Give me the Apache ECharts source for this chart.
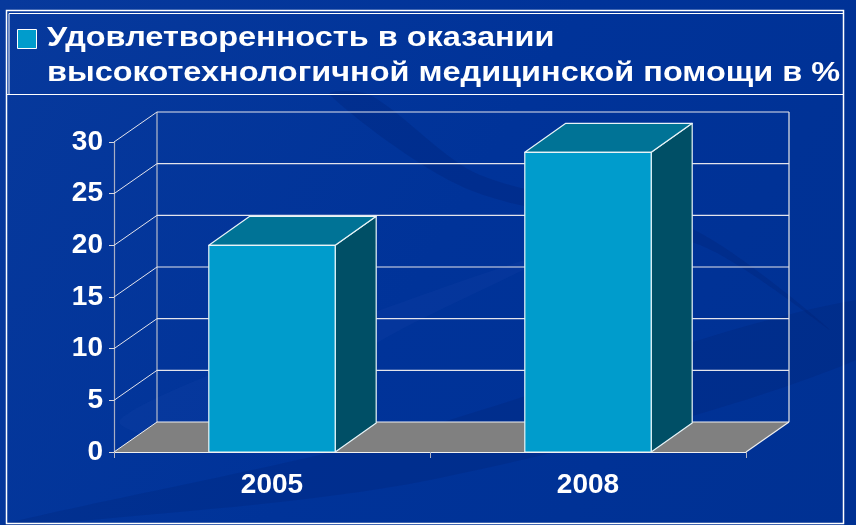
<!DOCTYPE html>
<html>
<head>
<meta charset="utf-8">
<script src="https://cdn.jsdelivr.net/npm/echarts@6/dist/echarts.min.js"></script>
<style>
  html, body { margin: 0; padding: 0; background: #003399; }
  #chart { width: 856px; height: 525px; }
</style>
</head>
<body>
<div id="chart"></div>
<script>
// Chart data
const categories = ['2005', '2008'];
const values = [20, 29];
const yTicks = [0, 5, 10, 15, 20, 25, 30];
const legendLines = ['Удовлетворенность в оказании', 'высокотехнологичной медицинской помощи в %'];
const seriesName = legendLines.join(' ');

// 3D look: depth offsets of the back wall and of the bars
const WALL_DX = 43, WALL_DY = -30;
const BAR_DX = 41, BAR_DY = -29;
const LEGEND_FONT = 'bold 27px "Liberation Sans", Arial, sans-serif';

// horizontal stretch of the legend caption
function captionScale() {
  const ctx = document.createElement('canvas').getContext('2d');
  ctx.font = LEGEND_FONT;
  return 793 / ctx.measureText(legendLines[1]).width;
}
const sx = captionScale();

const chart = echarts.init(document.getElementById('chart'), null, { renderer: 'canvas' });

function floorItem(params, api) {
  const cs = params.coordSys;
  const x = cs.x, w = cs.width;
  const y0 = api.coord([0, 0])[1];
  const yTop = api.coord([0, yTicks[yTicks.length - 1]])[1];
  const line = (x1, y1, x2, y2, color) => ({
    type: 'line', shape: { x1, y1, x2, y2 },
    style: { stroke: color, lineWidth: 1.2 }
  });
  return {
    type: 'group',
    children: [
      {
        type: 'polygon',
        shape: { points: [[x, y0], [x + w, y0], [x + w + WALL_DX, y0 + WALL_DY], [x + WALL_DX, y0 + WALL_DY]] },
        style: { fill: '#808080' }
      },
      line(x + WALL_DX, yTop + WALL_DY, x + WALL_DX, y0 + WALL_DY, '#b8bccc'),
      line(x + w + WALL_DX, yTop + WALL_DY, x + w + WALL_DX, y0 + WALL_DY, '#e8e8e8'),
      line(x + w, y0, x + w + WALL_DX, y0 + WALL_DY, '#f0f0f0')
    ]
  };
}

function wallItem(params, api) {
  const cs = params.coordSys;
  const x = cs.x, w = cs.width;
  const y = api.coord([0, api.value(0)])[1];
  const c = api.value(0) === 0 ? '#f0f0f0' : '#e4e4ec';
  return {
    type: 'group',
    children: [
      { type: 'line', shape: { x1: x, y1: y, x2: x + WALL_DX, y2: y + WALL_DY }, style: { stroke: c, lineWidth: 1 } },
      { type: 'line', shape: { x1: x + WALL_DX, y1: y + WALL_DY, x2: x + w + WALL_DX, y2: y + WALL_DY }, style: { stroke: c, lineWidth: 1.2 } }
    ]
  };
}

function barItem(params, api) {
  const top = api.coord([api.value(0), api.value(1)]);
  const base = api.coord([api.value(0), 0]);
  const bw = api.size([1, 0])[0] * 0.4;
  const x0 = top[0] - bw / 2, x1 = top[0] + bw / 2;
  const yt = top[1], yb = base[1];
  const edge = { stroke: '#e8f4f8', lineWidth: 1.2, lineJoin: 'round' };
  return {
    type: 'group',
    children: [
      {
        type: 'polygon',
        shape: { points: [[x1, yt], [x1 + BAR_DX, yt + BAR_DY], [x1 + BAR_DX, yb + BAR_DY], [x1, yb]] },
        style: Object.assign({ fill: '#004f66' }, edge)
      },
      {
        type: 'polygon',
        shape: { points: [[x0, yt], [x1, yt], [x1 + BAR_DX, yt + BAR_DY], [x0 + BAR_DX, yt + BAR_DY]] },
        style: Object.assign({ fill: '#007396' }, edge)
      },
      {
        type: 'rect',
        shape: { x: x0, y: yt, width: bw, height: yb - yt },
        style: Object.assign({ fill: '#009ccc' }, edge)
      }
    ]
  };
}

const option = {
  animation: false,
  backgroundColor: {
    type: 'linear', x: 0, y: 0, x2: 1, y2: 1,
    colorStops: [
      { offset: 0, color: '#07399c' },
      { offset: 0.5, color: '#003399' },
      { offset: 1, color: '#003193' }
    ]
  },
  graphic: [
    // soft swooshes in the backdrop
    {
      type: 'polygon', z: -10, silent: true,
      shape: { points: [[0, 525], [380, 440], [856, 300], [856, 360], [430, 480], [40, 525]], smooth: 0.3 },
      style: { fill: 'rgba(0,30,110,0.22)' }
    },
    {
      type: 'polygon', z: -10, silent: true,
      shape: { points: [[330, 95], [470, 190], [700, 245], [830, 330], [690, 228], [480, 175], [370, 95]], smooth: 0.3 },
      style: { fill: 'rgba(0,25,100,0.2)' }
    },
    {
      type: 'polygon', z: -10, silent: true,
      shape: { points: [[120, 420], [300, 340], [560, 250], [400, 330], [200, 440]], smooth: 0.3 },
      style: { fill: 'rgba(40,80,180,0.12)' }
    },
    // slide frame
    {
      type: 'rect', z: -5, silent: true,
      shape: { x: 6.5, y: 10.5, width: 837, height: 513 },
      style: { fill: 'none', stroke: '#ffffff', lineWidth: 1.5 }
    },
    {
      type: 'line', z: -5, silent: true,
      shape: { x1: 9, y1: 13.5, x2: 843, y2: 13.5 },
      style: { stroke: '#ffffff', lineWidth: 1 }
    },
    {
      type: 'line', z: -5, silent: true,
      shape: { x1: 9, y1: 13.5, x2: 9, y2: 94 },
      style: { stroke: '#ffffff', lineWidth: 1 }
    },
    {
      type: 'line', z: -5, silent: true,
      shape: { x1: 6, y1: 94.5, x2: 844, y2: 94.5 },
      style: { stroke: '#ffffff', lineWidth: 1.2 }
    },
    // legend caption
    {
      type: 'text', x: 47, y: 39, scaleX: sx, silent: true,
      style: { text: legendLines[0], x: 0, y: 0, font: LEGEND_FONT, fill: '#ffffff', textAlign: 'left', textVerticalAlign: 'middle' }
    },
    {
      type: 'text', x: 47, y: 74, scaleX: sx, silent: true,
      style: { text: legendLines[1], x: 0, y: 0, font: LEGEND_FONT, fill: '#ffffff', textAlign: 'left', textVerticalAlign: 'middle' }
    }
  ],
  legend: {
    left: 17, top: 29, padding: 0,
    icon: 'rect', itemWidth: 19, itemHeight: 19,
    itemStyle: { borderColor: '#ffffff', borderWidth: 1 },
    formatter: () => '',
    selectedMode: false,
    data: [seriesName]
  },
  grid: { left: 114, top: 142, width: 632, height: 310 },
  xAxis: {
    type: 'category',
    data: categories,
    axisLine: { lineStyle: { color: '#f0f0f0', width: 1.2 } },
    axisTick: { show: true, length: 6, lineStyle: { color: '#b0b4c4' } },
    axisLabel: { color: '#ffffff', fontSize: 28, fontWeight: 'bold', fontFamily: 'Liberation Sans, Arial, sans-serif', margin: 19 },
    splitLine: { show: false },
    z: 5
  },
  yAxis: {
    type: 'value',
    min: 0, max: 30, interval: 5,
    axisLine: { show: true, lineStyle: { color: '#a8aec4', width: 1.2 } },
    axisTick: { show: true, length: 5, lineStyle: { color: '#d8d8e0' } },
    axisLabel: { color: '#ffffff', fontSize: 28, fontWeight: 'bold', fontFamily: 'Liberation Sans, Arial, sans-serif', margin: 11 },
    splitLine: { show: false }
  },
  series: [
    {
      type: 'custom', name: 'floor', silent: true, z: 1,
      renderItem: floorItem,
      data: [[0]],
      encode: { x: -1, y: -1 }
    },
    {
      type: 'custom', name: 'wall', silent: true, z: 2,
      renderItem: wallItem,
      data: yTicks.map(v => [v]),
      encode: { y: 0, x: -1 }
    },
    {
      type: 'custom', name: seriesName, z: 3,
      itemStyle: { color: '#009ccc' },
      renderItem: barItem,
      data: categories.map((c, i) => [i, values[i]]),
      encode: { x: 0, y: 1 }
    }
  ]
};

chart.setOption(option);
</script>
</body>
</html>
